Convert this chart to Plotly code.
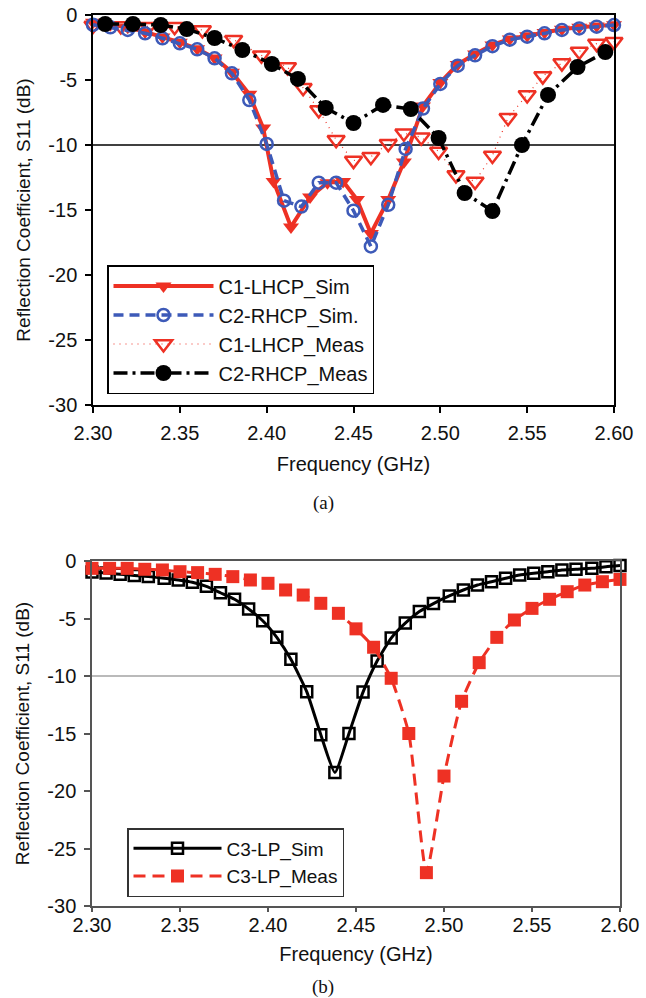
import plotly.graph_objects as go

# ---------------- (a) data ----------------
c1_sim_f = [2.30, 2.31, 2.32, 2.33, 2.34, 2.35, 2.36, 2.37, 2.38, 2.39, 2.398, 2.404, 2.414, 2.425,
            2.435, 2.444, 2.452, 2.46, 2.47, 2.479, 2.49, 2.50, 2.51, 2.52, 2.53, 2.54, 2.55, 2.56,
            2.57, 2.58, 2.59, 2.60]
c1_sim_db = [-0.55, -0.75, -0.95, -1.3, -1.7, -2.1, -2.6, -3.3, -4.4, -6.1, -8.7, -12.8, -16.3, -14.0,
             -12.9, -12.8, -14.2, -16.8, -14.2, -11.3, -7.0, -5.2, -3.8, -3.0, -2.3, -1.85, -1.6, -1.35,
             -1.1, -0.95, -0.85, -0.75]

c2_sim_f = [2.30, 2.31, 2.32, 2.33, 2.34, 2.35, 2.36, 2.37, 2.38, 2.39, 2.40, 2.41, 2.42, 2.43, 2.44,
            2.45, 2.46, 2.47, 2.48, 2.49, 2.50, 2.51, 2.52, 2.53, 2.54, 2.55, 2.56, 2.57, 2.58, 2.59, 2.60]
c2_sim_db = [-0.75, -0.95, -1.15, -1.41, -1.79, -2.18, -2.64, -3.33, -4.49, -6.54, -9.92, -14.28, -14.74,
             -12.9, -12.9, -15.05, -17.8, -14.6, -10.3, -7.2, -5.3, -3.9, -3.1, -2.4, -1.9, -1.67, -1.41,
             -1.15, -1.03, -0.9, -0.77]

c1_meas_f = [2.300, 2.316, 2.332, 2.347, 2.363, 2.381, 2.397, 2.412, 2.421, 2.430, 2.440, 2.450, 2.460,
             2.470, 2.479, 2.489, 2.499, 2.509, 2.520, 2.530, 2.539, 2.550, 2.559, 2.570, 2.580, 2.590, 2.600]
c1_meas_db = [-0.8, -0.85, -0.9, -0.9, -1.15, -1.9, -3.1, -4.0, -5.6, -7.3, -9.6, -11.2, -10.9, -9.9,
              -9.1, -9.4, -10.5, -12.3, -12.8, -10.8, -7.9, -6.15, -4.7, -3.7, -2.8, -2.2, -2.05]

c2_meas_f = [2.307, 2.323, 2.339, 2.354, 2.370, 2.386, 2.403, 2.418, 2.434, 2.450, 2.467, 2.483, 2.499,
             2.514, 2.530, 2.547, 2.562, 2.579, 2.595]
c2_meas_db = [-0.69, -0.69, -0.77, -1.08, -1.77, -2.69, -3.77, -4.92, -7.15, -8.31, -6.92, -7.23, -9.46,
              -13.69, -15.08, -10.0, -6.15, -4.0, -2.85]

# ---------------- (b) data ----------------
c3_sim_f = [2.300, 2.308, 2.316, 2.324, 2.332, 2.341, 2.349, 2.357, 2.365, 2.373, 2.381, 2.389, 2.397,
            2.405, 2.413, 2.422, 2.430, 2.438, 2.446, 2.454, 2.462, 2.470, 2.478, 2.486, 2.494, 2.503,
            2.511, 2.519, 2.527, 2.535, 2.543, 2.551, 2.559, 2.567, 2.575, 2.584, 2.592, 2.600]
c3_sim_db = [-0.95, -1.05, -1.15, -1.25, -1.35, -1.5, -1.65, -1.85, -2.2, -2.76, -3.33, -4.17, -5.19,
             -6.64, -8.55, -11.36, -15.1, -18.4, -15.0, -11.4, -8.7, -6.7, -5.4, -4.4, -3.7, -3.04,
             -2.52, -2.09, -1.8, -1.5, -1.22, -1.07, -0.93, -0.78, -0.72, -0.64, -0.5, -0.4]

c3_meas_f = [2.30, 2.31, 2.32, 2.33, 2.34, 2.35, 2.36, 2.37, 2.38, 2.39, 2.40, 2.41, 2.42, 2.43, 2.44,
             2.45, 2.46, 2.47, 2.48, 2.49, 2.50, 2.51, 2.52, 2.53, 2.54, 2.55, 2.56, 2.57, 2.58, 2.59, 2.60]
c3_meas_db = [-0.64, -0.64, -0.64, -0.72, -0.78, -0.93, -1.01, -1.16, -1.36, -1.65, -1.94, -2.52, -2.96,
              -3.68, -4.55, -5.9, -7.5, -10.2, -15.0, -27.1, -18.7, -12.2, -8.84, -6.64, -5.13, -4.12,
              -3.33, -2.67, -2.09, -1.8, -1.6]

x_ticks = [2.30, 2.35, 2.40, 2.45, 2.50, 2.55, 2.60]
x_tick_text = ["2.30", "2.35", "2.40", "2.45", "2.50", "2.55", "2.60"]
y_ticks = [0, -5, -10, -15, -20, -25, -30]
y_tick_text = ["0", "-5", "-10", "-15", "-20", "-25", "-30"]
ref_level = -10

RED = "#EE3124"
BLUE = "#3D5AB8"
FONT = "Liberation Sans, Arial, sans-serif"
W, H = 646, 998

fig = go.Figure()

# (a) traces  (draw order: meas triangles, red sim, blue sim, black meas)
fig.add_trace(go.Scatter(x=c1_meas_f, y=c1_meas_db, name="C1-LHCP_Meas", mode="lines+markers",
                         line=dict(color=RED, width=1.2, dash="1px,5px"),
                         marker=dict(symbol="triangle-down-open", size=15, color=RED, line=dict(width=2.5, color=RED)),
                         legend="legend", legendrank=3, cliponaxis=False, xaxis="x", yaxis="y"))
fig.add_trace(go.Scatter(x=c1_sim_f, y=c1_sim_db, name="C1-LHCP_Sim", mode="lines+markers",
                         line=dict(color=RED, width=4),
                         marker=dict(symbol="triangle-down", size=14, color=RED),
                         legend="legend", legendrank=1, cliponaxis=False, xaxis="x", yaxis="y"))
fig.add_trace(go.Scatter(x=c2_sim_f, y=c2_sim_db, name="C2-RHCP_Sim.", mode="lines+markers",
                         line=dict(color=BLUE, width=3.5, dash="10px,6px"),
                         marker=dict(symbol="circle-open", size=12, color=BLUE, line=dict(width=2.5, color=BLUE)),
                         legend="legend", legendrank=2, cliponaxis=False, xaxis="x", yaxis="y"))
fig.add_trace(go.Scatter(x=c2_meas_f, y=c2_meas_db, name="C2-RHCP_Meas", mode="lines+markers",
                         line=dict(color="black", width=3.5, dash="14px,5px,3px,5px"),
                         marker=dict(symbol="circle", size=16, color="black"),
                         legend="legend", legendrank=4, cliponaxis=False, xaxis="x", yaxis="y"))

# (b) traces
fig.add_trace(go.Scatter(x=c3_sim_f, y=c3_sim_db, name="C3-LP_Sim", mode="lines+markers",
                         line=dict(color="black", width=3, shape="spline", smoothing=0.5),
                         marker=dict(symbol="square-open", size=11, color="black", line=dict(width=2.5, color="black")),
                         legend="legend2", legendrank=1, cliponaxis=False, xaxis="x2", yaxis="y2"))
fig.add_trace(go.Scatter(x=c3_meas_f, y=c3_meas_db, name="C3-LP_Meas", mode="lines+markers",
                         line=dict(color=RED, width=3, dash="12px,7px", shape="spline", smoothing=0.5),
                         marker=dict(symbol="square", size=13, color=RED),
                         legend="legend2", legendrank=2, cliponaxis=False, xaxis="x2", yaxis="y2"))

# reference lines at -10 dB
fig.add_shape(type="line", xref="x", yref="y", x0=2.30, x1=2.60, y0=ref_level, y1=ref_level,
              line=dict(color="black", width=1.5), layer="below")
fig.add_shape(type="line", xref="x2", yref="y2", x0=2.30, x1=2.60, y0=ref_level, y1=ref_level,
              line=dict(color="#777777", width=1.2), layer="below")


def xax(domain, anchor, color, ticklen, standoff_lbl, title_standoff):
    return dict(domain=domain, anchor=anchor, range=[2.30, 2.60], showgrid=False, zeroline=False,
                showline=True, linecolor=color, linewidth=1.5, mirror=True,
                ticks="outside", ticklen=ticklen, tickcolor=color, tickwidth=1.5,
                tickvals=x_ticks, ticktext=x_tick_text, ticklabelstandoff=standoff_lbl,
                tickfont=dict(family=FONT, size=20, color="#111111"),
                title=dict(text="Frequency (GHz)", standoff=title_standoff,
                           font=dict(family=FONT, size=20, color="#111111")),
                automargin=False)


def yax(domain, anchor, color):
    return dict(domain=domain, anchor=anchor, range=[-30, 0], showgrid=False, zeroline=False,
                showline=True, linecolor=color, linewidth=1.5, mirror=True,
                ticks="outside", ticklen=6, tickcolor=color, tickwidth=1.5,
                tickvals=y_ticks, ticktext=y_tick_text, ticklabelstandoff=4,
                tickfont=dict(family=FONT, size=20, color="#111111"),
                title=dict(text="Reflection Coefficient, S11 (dB)", standoff=13,
                           font=dict(family=FONT, size=19, color="#111111")),
                automargin=False)


fig.update_layout(
    width=W, height=H, margin=dict(l=0, r=0, t=0, b=0),
    paper_bgcolor="white", plot_bgcolor="white",
    font=dict(family=FONT, size=20, color="#111111"),
    xaxis=xax([93 / W, 614 / W], "y", "black", 6, 3, 14),
    yaxis=yax([1 - 405 / H, 1 - 15 / H], "x", "black"),
    xaxis2=xax([92 / W, 620 / W], "y2", "#555555", 4, -4, 12),
    yaxis2=yax([1 - 906 / H, 1 - 561 / H], "x2", "#555555"),
    legend=dict(x=107 / W, y=1 - 265 / H, xanchor="left", yanchor="top",
                bgcolor="white", bordercolor="black", borderwidth=1.5,
                font=dict(family=FONT, size=20, color="#111111"), itemwidth=100,
                traceorder="normal", tracegroupgap=0),
    legend2=dict(x=127 / W, y=1 - 828 / H, xanchor="left", yanchor="top",
                 bgcolor="white", bordercolor="#333333", borderwidth=1.5,
                 font=dict(family=FONT, size=19, color="#111111"), itemwidth=88,
                 traceorder="normal", tracegroupgap=0),
    showlegend=True,
    annotations=[
        dict(text="(a)", x=323 / W, y=1 - 503 / H, xref="paper", yref="paper", showarrow=False,
             xanchor="center", yanchor="middle",
             font=dict(family="Liberation Serif, Times New Roman, serif", size=19, color="#111111")),
        dict(text="(b)", x=323 / W, y=1 - 987 / H, xref="paper", yref="paper", showarrow=False,
             xanchor="center", yanchor="middle",
             font=dict(family="Liberation Serif, Times New Roman, serif", size=19, color="#111111")),
    ],
)

fig.write_html("out.html", config={"displayModeBar": False},
               post_script="document.body.style.margin='0';document.body.style.padding='0';"
                           "document.documentElement.style.overflow='hidden';")
